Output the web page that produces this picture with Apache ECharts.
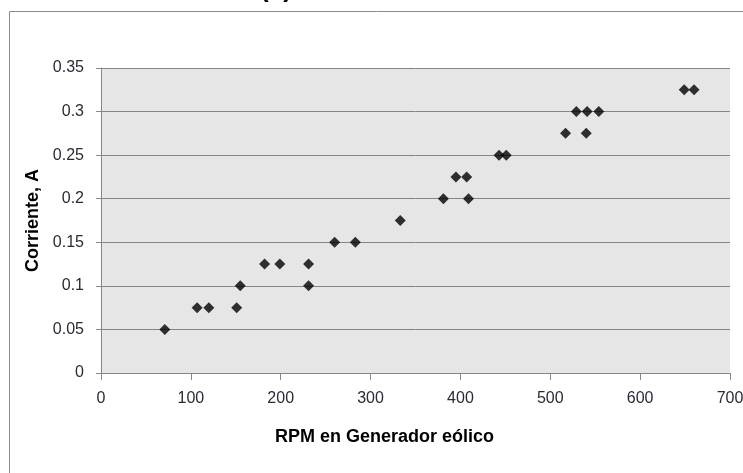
<!DOCTYPE html>
<html>
<head>
<meta charset="utf-8">
<script src="https://cdn.jsdelivr.net/npm/echarts@6/dist/echarts.min.js"></script>
<style>
    html, body { margin: 0; padding: 0; background: #ffffff; }
    #main { width: 743px; height: 473px; }
</style>
</head>
<body>
<div id="main"></div>
<script>
// RPM del generador y corriente medida
var rpm = [71, 107, 120, 151, 155, 182, 199, 231, 231, 260, 283, 333,
    381, 409, 395, 407, 443, 451, 517, 540, 529, 541, 554, 649, 660];
var corriente = [0.05, 0.075, 0.075, 0.075, 0.1, 0.125, 0.125, 0.125, 0.1, 0.15, 0.15, 0.175,
    0.2, 0.2, 0.225, 0.225, 0.25, 0.25, 0.275, 0.275, 0.3, 0.3, 0.3, 0.325, 0.325];
var xRange = [0, 700, 100];
var yRange = [0, 0.35, 0.05];

var points = rpm.map(function (r, i) { return [r, corriente[i]]; });
var fontFam = 'Liberation Sans, Arial, sans-serif';

var myChart = echarts.init(document.getElementById('main'));
var option = {
    animation: false,
    backgroundColor: '#ffffff',
    grid: {
        left: 101,
        right: 13,
        top: 68,
        bottom: 100,
        outerBoundsMode: 'none',
        show: true,
        backgroundColor: '#e6e6e6',
        borderWidth: 0
    },
    graphic: [
        {
            type: 'rect',
            shape: { x: 9.5, y: 11.5, width: 800, height: 500 },
            style: { fill: 'none', stroke: '#8c8c8c', lineWidth: 1 },
            z: -1
        },
        {
            // titulo cortado arriba
            type: 'text',
            x: 276,
            y: 3,
            style: {
                text: '(a)',
                font: 'bold 26px ' + fontFam,
                fill: '#000',
                textAlign: 'center',
                textVerticalAlign: 'bottom'
            }
        }
    ],
    xAxis: {
        type: 'value',
        min: xRange[0],
        max: xRange[1],
        interval: xRange[2],
        name: 'RPM en Generador eólico',
        nameLocation: 'middle',
        nameGap: 55,
        nameTextStyle: {
            fontFamily: fontFam,
            fontSize: 18,
            fontWeight: 'bold',
            color: '#000',
            padding: [0, 62, 0, 0]
        },
        axisLine: { show: true, lineStyle: { color: '#868686', width: 1 } },
        axisTick: { show: true, length: 7, lineStyle: { color: '#868686' } },
        splitLine: { show: false },
        axisLabel: {
            margin: 18,
            fontFamily: fontFam,
            fontSize: 16,
            color: '#2a2a38',
            showMaxLabel: true
        }
    },
    yAxis: {
        type: 'value',
        min: yRange[0],
        max: yRange[1],
        interval: yRange[2],
        name: 'Corriente, A',
        nameLocation: 'middle',
        nameGap: 49,
        nameTextStyle: {
            fontFamily: fontFam,
            fontSize: 18,
            fontWeight: 'bold',
            color: '#000'
        },
        axisLine: { show: true, lineStyle: { color: '#868686', width: 1 } },
        axisTick: { show: true, length: 5, lineStyle: { color: '#868686' } },
        splitLine: { show: true, lineStyle: { color: '#868686', width: 1 } },
        axisLabel: {
            margin: 17,
            fontFamily: fontFam,
            fontSize: 16,
            color: '#2a2a38'
        }
    },
    series: [
        {
            type: 'scatter',
            data: points,
            symbol: 'diamond',
            symbolSize: 11,
            itemStyle: { color: '#000000' }
        }
    ]
};
myChart.setOption(option);
</script>
</body>
</html>
